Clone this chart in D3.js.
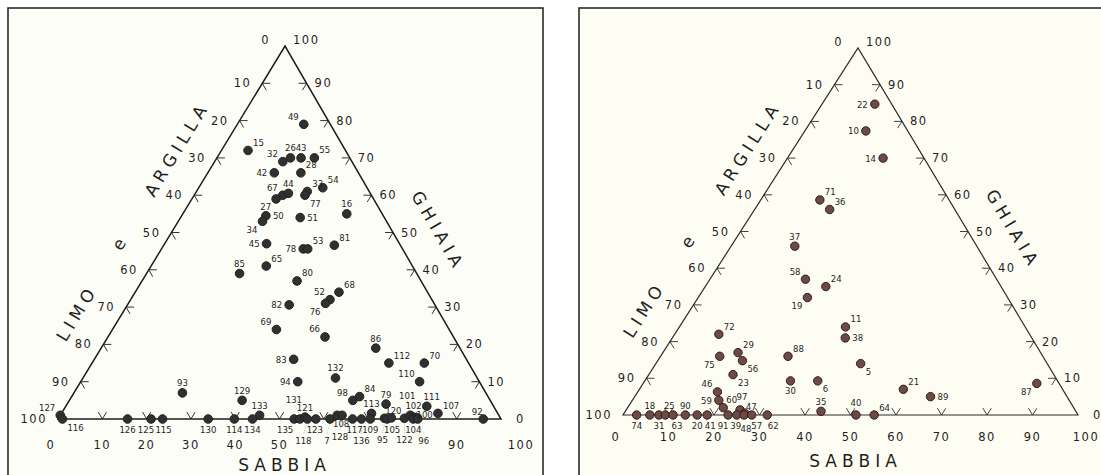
<!DOCTYPE html>
<html lang="it">
<head>
<meta charset="utf-8">
<title>Diagrammi ternari: ghiaia, sabbia, limo e argilla</title>
<script src="https://d3js.org/d3.v7.min.js"></script>
<style>
  body { margin: 0; background: #ffffff; }
  svg text { fill: #1f1f1f; }
</style>
</head>
<body>
<script>
// tick values on the three sides (percent)
var tickValues = [0, 10, 20, 30, 40, 50, 60, 70, 80, 90, 100];

// left diagram: sample number, % sabbia, % ghiaia (limo e argilla = the rest)
var leftIds = [49,15,32,26,43,55,42,28,67,27,44,33,77,54,16,50,34,51,45,78,53,81,85,65,80,52,76,68,82,69,66,83,94,132,86,112,70,110,79,111,107,92,93,129,133,98,84,113,127,116,126,125,115,130,114,134,135,131,121,118,123,7,108,128,117,136,109,95,105,120,122,101,102,104,100,96];
var leftSabbia = [15,6,15.4,16.6,19,22,15,21,20,19,21,25,25,28,37,19,19,27,23,32,33,38.5,21,26,35,45,44.5,46,36.5,37,49,45,49,57,62,67,75,76.5,72,81.5,85,96,24.5,39,45,64,65,70,0,1,15.7,21,23.6,33.9,39.8,43.9,53.3,54.6,55.5,56.3,58.2,61.4,62.5,63.6,66.5,68.5,70.5,73.6,74.3,75.1,78.1,79,80,80.2,81,81.2];
var leftGhiaia = [79,72,69,70,70,70,66,66,60,59,60.5,61,60,62,55,54.5,53,54,47,45.6,45.6,46.6,39,41,37,32,31,34,30.6,24,22,16,10,11,19,15,15,10,4,3.4,1.5,0,7,5,1,5,6,1.5,1,0,0,0,0,0,0,0,0,0,0.5,0,0,0,1,1,0,0,0,0.2,0,0.3,0.2,1,0.5,0,0.3,0];
// base numbers left out of the left diagram (sample numbers sit there)
var leftBaseHidden = [60, 70, 80];

// right diagram
var rightIds = [22,10,14,71,36,37,58,24,19,11,38,88,5,30,6,21,89,87,35,40,64,72,75,29,56,23,46,59,60,97,47,39,48,57,62,91,74,18,31,25,63,90,20,41];
var rightSabbia = [11.6,13.4,21,13,16.5,14,21,26.5,24,36.5,38,28,45,32,38,58,65,86.5,43,51.2,55.2,9.7,13,16.5,18.6,18.5,17.5,19,21,25,26.5,25,26.6,28.3,31.7,23.1,3,5.9,7.9,9.3,11,13.7,16.3,18.5];
var rightGhiaia = [84.7,77.4,70,58.6,56,46,37,35,32,24,21,16,14,9.3,9.3,7,5,8.6,1,0,0,22,16,17,14.8,11,6.3,4,2,1.4,0.5,0,0,0,0,0,0,0,0,0,0,0,0,0];

// where each sample number sits around its dot: side, optional nudge
var leftLabelPos = {49:"nw",15:"ne",32:"nw",26:"n",43:"n",55:"ne",42:"w",28:"ne",67:"nw",27:"sw",44:"n",33:"ne",77:"se",54:"ne",16:"n",50:"e",34:"sw",51:"e",45:"w",78:"w",53:"ne",81:"ne",85:"n",65:"ne",80:"ne",52:"nw",76:"sw",68:"ne",82:"w",69:"nw",66:"nw",83:"w",94:"w",132:"n",86:"n",112:"ne",70:"ne",110:"nw",79:"n",111:["n",5,0],107:"ne",92:["n",-6,2],93:"n",129:"n",133:"n",98:"nw",84:"ne",113:"n",127:"nw",116:"se",
  126:"s",125:["s",-5,0],115:["s",1,0],130:"s",114:"s",134:"s",135:["s",-9,0],131:["nn",-6,0],121:"n",118:["ss",-4,0],123:["s",-1,0],7:["ss",-3,0],108:["s",4,-2],128:["ss",-2,0],117:["s",2,0],136:"ss",109:"s",95:["ss",-2,0],105:["s",5,0],120:["n",2,3],122:"ss",101:["nn",-3,0],102:["n",0,-2],104:"s",100:["ne",-6,5],96:["ss",6,0]};
var rightLabelPos = {22:"w",10:"w",14:"w",71:"ne",36:"ne",37:"n",58:"nw",24:"ne",19:"sw",11:"ne",38:"e",88:"ne",5:"se",30:"s",6:"se",21:"ne",89:"e",87:"sw",35:"n",40:["n",0,-3],64:"ne",72:"ne",75:"sw",29:"ne",56:"se",23:"se",46:"nw",59:"w",60:["ne",-2,0],97:["n",2,-3],47:["ne",-4,1],
  39:["s",-1,0],48:["s",2,3],57:["s",5,0],62:["s",6,0],91:["s",-5,0],74:"s",18:"n",31:"s",25:["n",4,0],63:["s",4,0],90:"n",20:"s",41:["s",3,0]};

var offs = {
  n:  [0, -10, "middle"], nn: [0, -20, "middle"],
  s:  [0, 10, "middle"],  ss: [0, 21, "middle"],
  e:  [7, 0, "start"],    w:  [-7, 0, "end"],
  ne: [5, -8, "start"],   nw: [-5, -8, "end"],
  se: [5, 8, "start"],    sw: [-5, 8, "end"]
};

var w = 1101, h = 475;
var svg = d3.select("body").append("svg").attr("width", w).attr("height", h);

function unit(p, q) {
  var dx = q[0] - p[0], dy = q[1] - p[1], l = Math.sqrt(dx * dx + dy * dy);
  return [dx / l, dy / l];
}

function drawPanel(p) {
  var g = svg.append("g");
  var A = p.A, B = p.B, C = p.C;

  g.append("rect")
    .attr("x", p.box[0]).attr("y", p.box[1])
    .attr("width", p.box[2]).attr("height", p.box[3])
    .attr("fill", p.paper).attr("stroke", "#2b2b2b").attr("stroke-width", 1.6);

  // barycentric position: sabbia along the base, ghiaia towards the apex
  var sx = d3.scaleLinear().domain([0, 100]).range([0, B[0] - A[0]]);
  var gx = d3.scaleLinear().domain([0, 100]).range([0, C[0] - A[0]]);
  var gy = d3.scaleLinear().domain([0, 100]).range([A[1], C[1]]);
  function pos(s, gr) { return [A[0] + sx(s) + gx(gr), gy(gr)]; }

  g.append("path")
    .attr("d", d3.line()([A, B, C, A]) + "Z")
    .attr("fill", "none").attr("stroke", p.ink).attr("stroke-width", p.lw)
    .attr("stroke-linejoin", "miter");

  var uAB = unit(A, B), uBA = unit(B, A), uAC = unit(A, C), uBC = unit(B, C),
      uCA = unit(C, A), uCB = unit(C, B);
  var tl = 8;
  var inner = tickValues.filter(function(v) { return v > 0 && v < 100; });

  function tick(pt, a, b) {
    g.append("path")
      .attr("d", d3.line()([[pt[0] + a[0] * tl, pt[1] + a[1] * tl], pt, [pt[0] + b[0] * tl, pt[1] + b[1] * tl]]))
      .attr("fill", "none").attr("stroke", p.ink).attr("stroke-width", 0.9);
  }
  inner.forEach(function(v) {
    tick(pos(v, 0), uBC, uAC);            // base (sabbia)
    tick(pos(0, 100 - v), uAB, uCB);      // left (limo e argilla)
    tick(pos(100 - v, v), uBA, uCA);      // right (ghiaia)
  });

  function num(x, y, anchor, v) {
    g.append("text")
      .attr("x", x).attr("y", y)
      .attr("text-anchor", anchor).attr("dominant-baseline", "central")
      .attr("font-family", "DejaVu Sans, sans-serif").attr("font-size", "11.5px")
      .attr("letter-spacing", "1.5px").text(v);
  }
  // base labels
  tickValues.filter(function(v) { return p.baseHidden.indexOf(v) < 0; }).forEach(function(v) {
    var pt = pos(v, 0);
    var dx = v === 0 ? -7 : (v === 100 ? p.endDx : 0);
    num(pt[0] + dx, pt[1] + p.baseDy, "middle", v);
  });
  // left labels (limo e argilla: 0 at apex, 100 at bottom-left)
  tickValues.forEach(function(v) {
    var pt = pos(0, 100 - v);
    num(pt[0] + (v === 0 ? -15 : -11), pt[1] + (v === 0 ? -6 : 0), "end", v);
  });
  // right labels (ghiaia: 0 at bottom-right, 100 at apex)
  tickValues.forEach(function(v) {
    var pt = pos(100 - v, v);
    num(pt[0] + (v === 0 ? 15 : 8), pt[1] + (v === 100 ? -6 : 0), "start", v);
  });

  // side titles
  var nL = [uAC[1], -uAC[0]], nR = [-uBC[1], uBC[0]];
  var angL = Math.atan2(C[1] - A[1], C[0] - A[0]) * 180 / Math.PI;
  var angR = Math.atan2(B[1] - C[1], B[0] - C[0]) * 180 / Math.PI;
  var lenL = Math.hypot(C[0] - A[0], C[1] - A[1]), lenR = Math.hypot(C[0] - B[0], C[1] - B[1]);
  function title(txt, x, y, ang) {
    g.append("text")
      .attr("transform", "translate(" + x + "," + y + ") rotate(" + ang + ")")
      .attr("text-anchor", "middle").attr("dominant-baseline", "central")
      .attr("font-family", "DejaVu Sans, sans-serif").attr("font-size", "17px")
      .attr("letter-spacing", "5px").text(txt);
  }
  [["LIMO", 0.23], ["e", 0.42], ["ARGILLA", 0.67]].forEach(function(t) {
    title(t[0], A[0] + uAC[0] * lenL * t[1] + nL[0] * 39, A[1] + uAC[1] * lenL * t[1] + nL[1] * 39, angL);
  });
  title("GHIAIA", B[0] + uBC[0] * lenR * 0.45 + nR[0] * 40, B[1] + uBC[1] * lenR * 0.45 + nR[1] * 40, angR);
  title("SABBIA", (A[0] + B[0]) / 2 + 5, A[1] + 46, 0);

  // samples
  var pts = p.ids.map(function(id, i) {
    var lp = p.labelPos[id] || "ne";
    if (typeof lp === "string") lp = [lp, 0, 0];
    return { id: id, xy: pos(p.sabbia[i], p.ghiaia[i]), side: lp[0], nx: lp[1], ny: lp[2] };
  });

  // dotted leaders for labels pushed far from their dot
  g.selectAll("line.lead").data(pts.filter(function(d) { return d.side === "ss" || d.side === "nn"; }))
    .enter().append("line")
    .attr("x1", function(d) { return d.xy[0]; })
    .attr("y1", function(d) { return d.xy[1] + (d.side === "ss" ? 4 : -4); })
    .attr("x2", function(d) { return d.xy[0] + d.nx; })
    .attr("y2", function(d) { return d.xy[1] + (d.side === "ss" ? 15 : -15); })
    .attr("stroke", "#888").attr("stroke-width", 0.6).attr("stroke-dasharray", "1,1.5");

  g.selectAll("circle.pt").data(pts).enter().append("circle")
    .attr("cx", function(d) { return d.xy[0]; })
    .attr("cy", function(d) { return d.xy[1]; })
    .attr("r", p.r)
    .attr("fill", p.dot).attr("stroke", p.dotStroke).attr("stroke-width", 1);

  g.selectAll("text.pt").data(pts).enter().append("text")
    .attr("x", function(d) { return d.xy[0] + offs[d.side][0] + d.nx; })
    .attr("y", function(d) { return d.xy[1] + offs[d.side][1] + d.ny; })
    .attr("text-anchor", function(d) { return offs[d.side][2]; })
    .attr("dominant-baseline", "central")
    .attr("font-family", "Liberation Sans Narrow, DejaVu Sans Condensed, sans-serif")
    .attr("font-size", "9.5px")
    .text(function(d) { return d.id; });
}

drawPanel({
  box: [8, 8, 535, 520], paper: "#fdfdf7", ink: "#1c1c1c", lw: 1.5,
  A: [58, 419], B: [501, 419], C: [285, 46], baseDy: 26, endDx: 20, baseHidden: leftBaseHidden,
  ids: leftIds, sabbia: leftSabbia, ghiaia: leftGhiaia, labelPos: leftLabelPos,
  r: 4.3, dot: "#303030", dotStroke: "#222"
});
drawPanel({
  box: [579, 8, 560, 520], paper: "#fefdf4", ink: "#2a2a2a", lw: 1.2,
  A: [623, 415], B: [1078, 415], C: [858, 48], baseDy: 22, endDx: 8, baseHidden: [],
  ids: rightIds, sabbia: rightSabbia, ghiaia: rightGhiaia, labelPos: rightLabelPos,
  r: 4.2, dot: "#6d4a44", dotStroke: "#2e1e1b"
});
</script>
</body>
</html>
